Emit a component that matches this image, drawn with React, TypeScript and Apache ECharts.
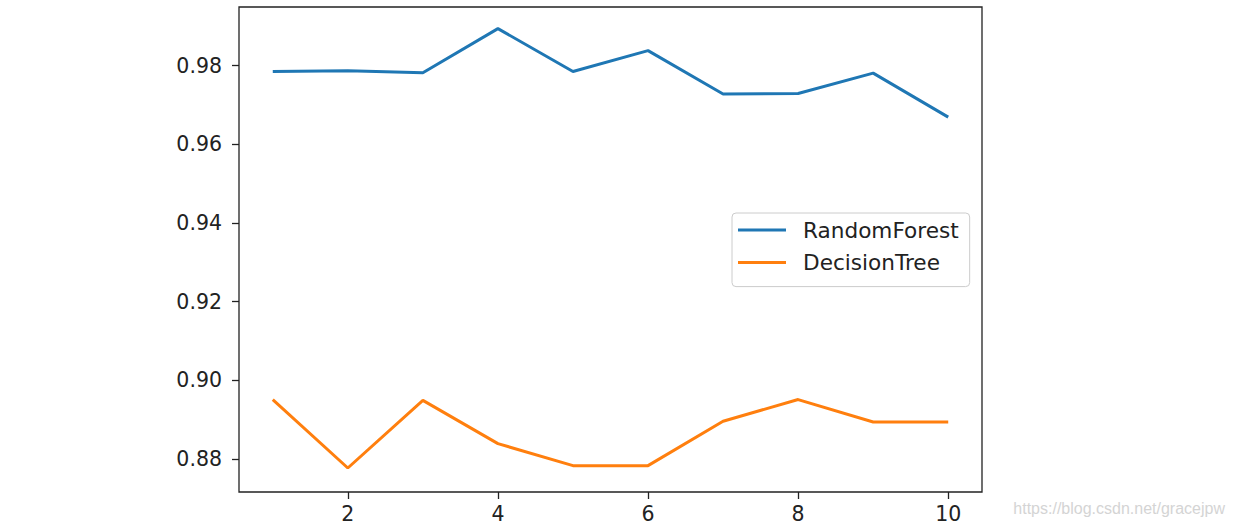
import React, { useEffect, useRef } from "react";
import * as echarts from "echarts";

const nEstimators = [1, 2, 3, 4, 5, 6, 7, 8, 9, 10];
const randomForest = [0.9785, 0.9787, 0.9782, 0.9894, 0.9785, 0.9838, 0.9728, 0.9729, 0.9781, 0.9669];
const decisionTree = [0.8951, 0.8777, 0.8949, 0.8839, 0.8783, 0.8783, 0.8896, 0.8951, 0.8894, 0.8894];
const xTicks = [2, 4, 6, 8, 10];
const yTicks = [0.88, 0.9, 0.92, 0.94, 0.96, 0.98];
const seriesNames = ["RandomForest", "DecisionTree"];
const watermark = "https://blog.csdn.net/gracejpw";

export default function App() {
  const ref = useRef<HTMLDivElement>(null);
  useEffect(() => {
    if (!ref.current) return;
    const chart = echarts.init(ref.current, null, { renderer: "svg" });
    const font = "DejaVu Sans";
    chart.setOption({
      animation: false,
      backgroundColor: "#fff",
      grid: {
        left: 239,
        right: 253,
        top: 7,
        bottom: 36,
        show: true,
        borderColor: "#222",
        borderWidth: 1.3,
        backgroundColor: "transparent",
      },
      xAxis: {
        type: "value",
        min: 0.55,
        max: 10.45,
        axisLine: { show: false },
        splitLine: { show: false },
        axisTick: { show: true, length: 7, lineStyle: { color: "#222", width: 1.3 }, customValues: xTicks },
        axisLabel: {
          customValues: xTicks,
          margin: 11,
          fontSize: 20.5,
          fontFamily: font,
          color: "#222",
        },
      },
      yAxis: {
        type: "value",
        min: 0.8716,
        max: 0.9949,
        axisLine: { show: false },
        splitLine: { show: false },
        axisTick: { show: true, length: 7, lineStyle: { color: "#222", width: 1.3 }, customValues: yTicks },
        axisLabel: {
          customValues: yTicks,
          margin: 17,
          fontSize: 20.5,
          fontFamily: font,
          color: "#222",
          formatter: (v: number) => v.toFixed(2),
        },
      },
      legend: {
        orient: "vertical",
        left: 732,
        top: 213,
        padding: [6, 11, 13, 6],
        itemWidth: 48,
        itemHeight: 3,
        itemGap: 10.6,
        icon: "rect",
        borderColor: "#ccc",
        borderWidth: 1,
        borderRadius: 4,
        backgroundColor: "#fff",
        data: seriesNames,
        textStyle: {
          fontSize: 21.6,
          lineHeight: 22,
          fontFamily: font,
          color: "#222",
          padding: [0, 0, 0, 12],
        },
      },
      graphic: [
        {
          type: "text",
          right: 10,
          top: 500,
          style: {
            text: watermark,
            fontSize: 16,
            fontFamily: "Liberation Sans",
            fill: "#d4d4d4",
          },
        },
      ],
      series: [
        {
          name: seriesNames[0],
          type: "line",
          data: nEstimators.map((x, i) => [x, randomForest[i]]),
          showSymbol: false,
          symbol: "none",
          lineStyle: { color: "#1f77b4", width: 3 },
          itemStyle: { color: "#1f77b4" },
        },
        {
          name: seriesNames[1],
          type: "line",
          data: nEstimators.map((x, i) => [x, decisionTree[i]]),
          showSymbol: false,
          symbol: "none",
          lineStyle: { color: "#ff7f0e", width: 3 },
          itemStyle: { color: "#ff7f0e" },
        },
      ],
    });
    return () => chart.dispose();
  }, []);
  return (
    <div
      ref={ref}
      style={{ position: "absolute", left: 0, top: 0, width: 1235, height: 528 }}
    />
  );
}
